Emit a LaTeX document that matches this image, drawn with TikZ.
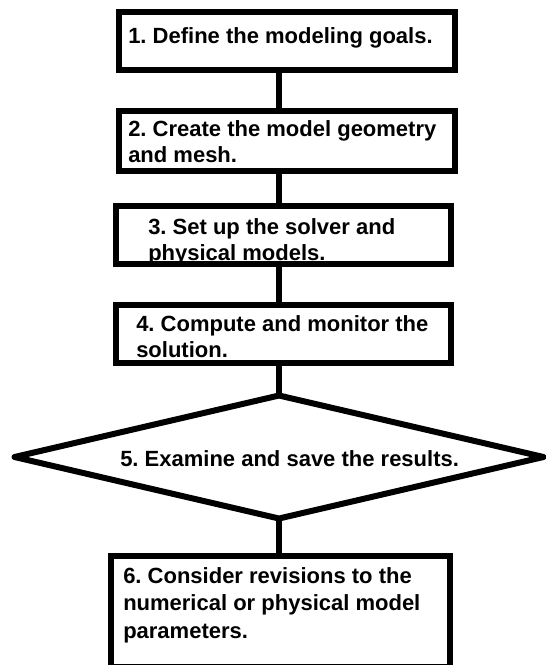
\documentclass[tikz,border=0pt]{standalone}
\usepackage{fontspec}
\setmainfont{Liberation Sans}
\usetikzlibrary{shapes.geometric}
\begin{document}
\frenchspacing
\begin{tikzpicture}[x=0.75pt,y=-0.75pt,
  box/.style={draw=black,line width=4.5pt,inner sep=0pt,outer sep=0pt,fill=white},
  dia/.style={draw=black,line width=4.5pt,line join=round,shape=diamond,inner sep=0pt,outer sep=0pt,
    minimum width=396.75pt,minimum height=92.25pt},
  conn/.style={draw=black,line width=4.5pt},
  txt/.style={anchor=base west,inner sep=0pt,align=left,
    font=\fontsize{16.5}{19.5}\selectfont\bfseries}]
\useasboundingbox (0,0) rectangle (546,665);
\clip (0,0) rectangle (546,665);
\node[box,minimum width=252pt,minimum height=43.5pt] (b1) at (287,41) {};
\node[box,minimum width=252pt,minimum height=45pt] (b2) at (287,141) {};
\node[box,minimum width=251.25pt,minimum height=43.9pt] (b3) at (283.5,235) {};
\node[box,minimum width=251.25pt,minimum height=43.1pt] (b4) at (283.5,334) {};
\node[dia] (d5) at (279,457) {};
\node[box,minimum width=254.25pt,minimum height=83.25pt] (b6) at (280.5,611.5) {};
\draw[conn] (b1.south -| d5.north) -- (b2.north -| d5.north);
\draw[conn] (b2.south -| d5.north) -- (b3.north -| d5.north);
\draw[conn] (b3.south -| d5.north) -- (b4.north -| d5.north);
\draw[conn] (b4.south -| d5.north) -- (d5.north);
\draw[conn] (d5.south) -- (b6.north -| d5.south);
\node[txt] (t1) at (128,43) {1. Define the modeling goals.};
\node[txt] (t2) at (128,162) {2. Create the model geometry\\and mesh.};
\node[txt] (t3) at (148,260) {3. Set up the solver and\\physical models.};
\node[txt] (t4) at (136,357) {4. Compute and monitor the\\solution.};
\node[txt] (t5) at (120,466) {5. Examine and save the results.};
\node[txt,font=\fontsize{16.5}{20.5}\selectfont\bfseries] (t6) at (123,638) {6. Consider revisions to the\\numerical or physical model\\parameters.};
\end{tikzpicture}
\end{document}
